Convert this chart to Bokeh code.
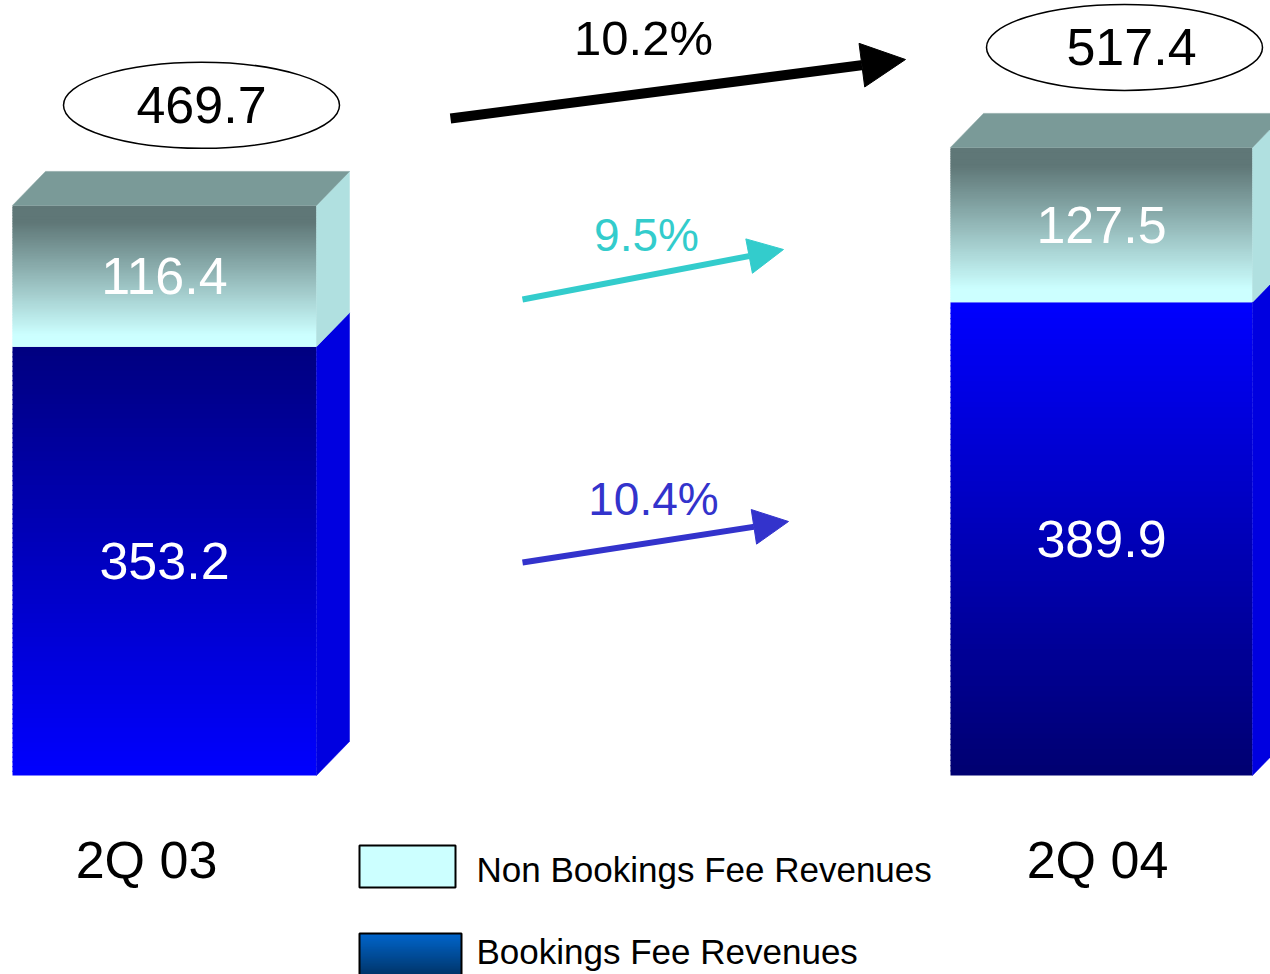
import numpy as np
from bokeh.plotting import figure
from bokeh.models import Range1d, Arrow, NormalHead
from bokeh.core.properties import value
from bokeh.embed import file_html
from bokeh.resources import INLINE

# ---------------- data ----------------
categories = ["2Q 03", "2Q 04"]
bookings = [353.2, 389.9]          # Bookings Fee Revenues
non_bookings = [116.4, 127.5]      # Non Bookings Fee Revenues
totals = [469.7, 517.4]
series_names = ["Non Bookings Fee Revenues", "Bookings Fee  Revenues"]

# ---------------- layout ----------------
W, H = 1270, 974
S = 1.214          # pixels per unit
BASE = 775         # pixel row (from top) of value 0
FONT = value("Liberation Sans")


def py(pix):
    """pixel row from top -> data y"""
    return (BASE - pix) / S


def hex2rgb(h):
    h = h.lstrip("#")
    return np.array([int(h[i:i + 2], 16) for i in (0, 2, 4)], dtype=float)


def mix(c1, c2, t):
    a, b = hex2rgb(c1), hex2rgb(c2)
    c = a + (b - a) * t
    return "#%02x%02x%02x" % tuple(int(round(v)) for v in c)


p = figure(width=W, height=H, x_range=Range1d(0, W), y_range=Range1d(py(H), py(0)),
           output_backend="svg", toolbar_location=None, tools="", min_border=0,
           x_axis_location=None, y_axis_location=None,
           background_fill_color="white", border_fill_color="white")
p.outline_line_color = None
p.grid.visible = False

X_LEFT = [12, 950]
BAR_W = [304, 302]
DX = 33
DY = 34 / S
N = 90

bottom_grad = [("#000080", "#0000ff"), ("#0000ff", "#000070")]
top_grad = ("#5f7777", "#ccffff")


def gradient(x0, x1, y0, y1, c_top, c_bot, shape=lambda t: t):
    L, R, B, T, C = [], [], [], [], []
    edges = np.linspace(y1, y0, N + 1)  # from top to bottom
    ov = 1.2 / S
    for k in range(N):
        t = (k + 0.5) / N
        col = mix(c_top, c_bot, shape(t))
        L.append(x0); R.append(x1)
        T.append(edges[k])
        B.append(max(edges[k + 1] - ov, y0))
        C.append(col)
    p.quad(left=L, right=R, bottom=B, top=T, fill_color=C, line_color=None)


def top_shape(t):
    return float(np.clip((t - 0.12) / 0.8, 0, 1))


for i in range(len(categories)):
    xl = X_LEFT[i]
    xr = xl + BAR_W[i]
    b = bookings[i]
    t = bookings[i] + non_bookings[i]
    # front faces (gradients)
    gradient(xl, xr, 0, b, bottom_grad[i][0], bottom_grad[i][1])
    gradient(xl, xr, b, t, top_grad[0], top_grad[1], top_shape)
    # side faces
    p.patch([xr, xr + DX, xr + DX, xr], [0, DY, b + DY, b], fill_color="#0000e0", line_color="#0000e0", line_width=0.5)
    p.patch([xr, xr + DX, xr + DX, xr], [b, b + DY, t + DY, t], fill_color="#b0e0e0", line_color="#b0e0e0", line_width=0.5)
    # top face
    p.patch([xl, xl + DX, xr + DX, xr], [t, t + DY, t + DY, t], fill_color="#7a9a98", line_color="#7a9a98", line_width=0.5)

# segment value labels
cx = [X_LEFT[i] + BAR_W[i] / 2 for i in range(2)]
p.text(x=cx, y=[b / 2 for b in bookings], text=[f"{v:.1f}" for v in bookings],
       text_color="white", text_font=FONT, text_font_size="52px",
       text_align="center", text_baseline="middle")
p.text(x=cx, y=[bookings[i] + non_bookings[i] / 2 for i in range(2)],
       text=[f"{v:.1f}" for v in non_bookings],
       text_color="white", text_font=FONT, text_font_size="52px",
       text_align="center", text_baseline="middle")

# total ellipses
ELL_X = [201, 1124]
ell_y = [v + 100 / S for v in totals]
p.ellipse(x=ELL_X, y=ell_y, width=276, height=86 / S, fill_color="white",
          line_color="black", line_width=1.5)
p.text(x=[201, 1131], y=ell_y, text=[f"{v:.1f}" for v in totals], text_color="black",
       text_font=FONT, text_font_size="52px", text_align="center", text_baseline="middle")

# category labels
p.text(x=[146, 1097], y=[py(859)] * 2, text=categories, text_color="black",
       text_font=FONT, text_font_size="52px", text_align="center", text_baseline="middle")

# growth arrows
g_total = (totals[1] / totals[0] - 1) * 100
g_non = (non_bookings[1] / non_bookings[0] - 1) * 100
g_book = (bookings[1] / bookings[0] - 1) * 100

arrows = [
    ((450, 118), (905, 59), 10, 44, "black", f"{g_total:.1f}%", (643, 37), "49px"),
    ((522, 299), (783, 249), 6, 35, "#33cccc", f"{g_non:.1f}%", (646, 234), "46px"),
    ((522, 562), (788, 521), 6, 35, "#3333cc", f"{g_book:.1f}%", (653, 498), "46px"),
]
for (x0, y0), (x1, y1), lw, hs, col, lab, (lx, ly), fs in arrows:
    p.add_layout(Arrow(x_start=x0, y_start=py(y0), x_end=x1, y_end=py(y1),
                       line_color=col, line_width=lw,
                       end=NormalHead(size=hs, fill_color=col, line_color=col, line_width=1)))
    p.text(x=[lx], y=[py(ly)], text=[lab], text_color=col, text_font=FONT,
           text_font_size=fs, text_align="center", text_baseline="middle")

# legend
p.quad(left=[359], right=[455], top=[py(845)], bottom=[py(887)], fill_color="#ccffff",
       line_color="black", line_width=2)
gradient(359, 461, py(976), py(933), "#0066cc", "#003366")
p.quad(left=[359], right=[461], top=[py(933)], bottom=[py(976)], fill_color=None,
       line_color="black", line_width=2)
p.text(x=[476, 476], y=[py(869), py(951)], text=series_names, text_color="black",
       text_font=FONT, text_font_size="35px", text_align="left", text_baseline="middle")

open("out.html", "w").write(file_html(p, INLINE))
